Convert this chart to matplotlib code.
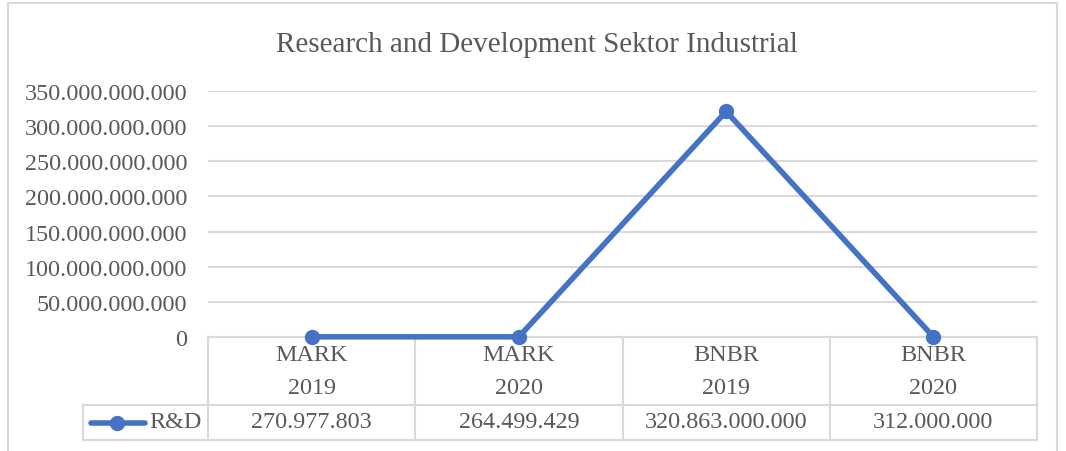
import matplotlib
matplotlib.use("Agg")
import matplotlib.pyplot as plt
from matplotlib.lines import Line2D
from matplotlib.patches import Rectangle

# ---- data ----
companies = ["MARK", "MARK", "BNBR", "BNBR"]
years = ["2019", "2020", "2019", "2020"]
rd_values = [270977803, 264499429, 320863000000, 312000000]
rd_labels = ["270.977.803", "264.499.429", "320.863.000.000", "312.000.000"]
series_name = "R&D"
title = "Research and Development Sektor Industrial"
yticks = [0, 50e9, 100e9, 150e9, 200e9, 250e9, 300e9, 350e9]

W, H = 1066, 452
fig = plt.figure(figsize=(W / 100, H / 100), dpi=100)
plt.rcParams['font.family'] = ['Liberation Serif', 'DejaVu Serif']

TXT = "#595959"
GRID = "#D9D9D9"
BLUE = "#4472C4"
FS = 17.4

def fx(x):
    return x / W

def fy(y):
    return 1 - y / H

# outer border
fig.add_artist(Rectangle((fx(8), fy(470)), fx(1057) - fx(8), fy(4) - fy(470),
                         transform=fig.transFigure, fill=False, edgecolor=GRID, lw=1.5, zorder=1))

L, R, T, B = 208, 1037, 92, 338
ax = fig.add_axes([fx(L), fy(B), fx(R) - fx(L), fy(T) - fy(B)])
ax.set_zorder(5)
ax.patch.set_visible(False)
n = len(rd_values)
xs = list(range(n))
ax.plot(xs, rd_values, color=BLUE, lw=4, marker='o', ms=10, solid_capstyle='round', zorder=5, clip_on=False)
ax.set_xlim(-0.5, n - 0.5)
ax.set_ylim(0, 350e9)
ax.set_yticks(yticks)
ax.set_yticklabels(["{:,.0f}".format(v).replace(",", ".") for v in yticks])
ax.tick_params(axis='y', length=0, pad=15, labelsize=FS, labelcolor=TXT)
ax.set_xticks([])
for s in ax.spines.values():
    s.set_visible(False)
ax.grid(axis='y', color=GRID, lw=1.5)
ax.set_axisbelow(True)

fig.text(fx(537), fy(45), title, ha='center', va='center', fontsize=21, color=TXT)

# data table
colw = (R - L) / n
def hline(x0, x1, y):
    fig.add_artist(Line2D([fx(x0), fx(x1)], [fy(y), fy(y)], transform=fig.transFigure, color=GRID, lw=1.5, zorder=1))
def vline(x, y0, y1):
    fig.add_artist(Line2D([fx(x), fx(x)], [fy(y0), fy(y1)], transform=fig.transFigure, color=GRID, lw=1.5, zorder=1))

hline(L, R, B)
hline(83, R, 406)
hline(83, R, 441)
for i in range(n + 1):
    vline(L + i * colw, B, 441)
vline(83, 406, 441)

for i in range(n):
    cx = L + (i + 0.5) * colw
    fig.text(fx(cx), fy(356), companies[i], ha='center', va='center', fontsize=FS, color=TXT)
    fig.text(fx(cx), fy(389), years[i], ha='center', va='center', fontsize=FS, color=TXT)
    fig.text(fx(cx), fy(423), rd_labels[i], ha='center', va='center', fontsize=FS, color=TXT)

fig.add_artist(Line2D([fx(91), fx(145)], [fy(424), fy(424)], transform=fig.transFigure,
                      color=BLUE, lw=4, solid_capstyle='round'))
fig.add_artist(Line2D([fx(117)], [fy(424)], transform=fig.transFigure, color=BLUE,
                      marker='o', ms=10, lw=0))
fig.text(fx(149), fy(423), series_name, ha='left', va='center', fontsize=FS, color=TXT)

fig.savefig("out.png", dpi=100)
